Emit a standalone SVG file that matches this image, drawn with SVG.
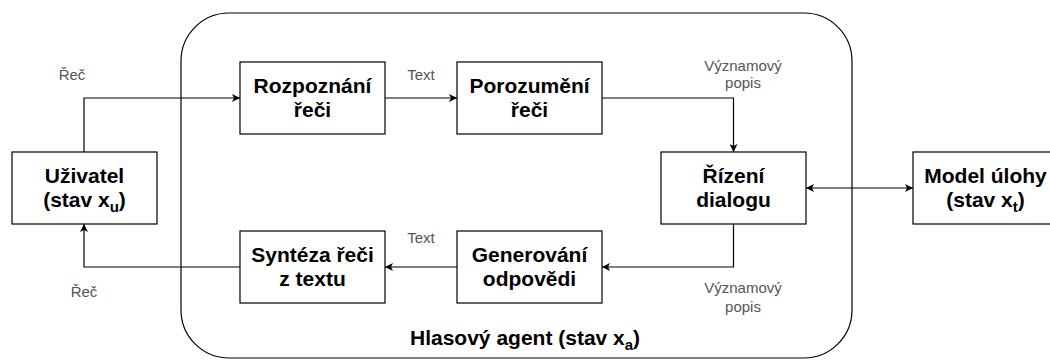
<svg xmlns="http://www.w3.org/2000/svg" width="1050" height="360" viewBox="0 0 1050 360">
  <style>
    .box { fill: #ffffff; stroke: #000000; stroke-width: 1.2; }
    .agent { fill: none; stroke: #000000; stroke-width: 1.2; }
    .t { font-family: "Liberation Sans", Arial, sans-serif; font-size: 21px; font-weight: bold; fill: #000000; text-anchor: middle; }
    .lbl { font-family: "Liberation Sans", Arial, sans-serif; font-size: 15px; fill: #555555; text-anchor: middle; }
    .sub { font-size: 15px; }
    .edge { fill: none; stroke: #000000; stroke-width: 1.2; }
  </style>
  <defs>
    <marker id="arrow" viewBox="0 0 10 10" refX="10" refY="5" markerWidth="8" markerHeight="8" markerUnits="userSpaceOnUse" orient="auto-start-reverse">
      <path d="M0,0 L10,5 L0,10 L2.5,5 Z" fill="#000000"/>
    </marker>
  </defs>

  <!-- voice agent container -->
  <g id="agent">
    <rect class="agent" x="181" y="13" width="671" height="345" rx="48" ry="48"/>
    <text class="t" x="410" y="345" style="text-anchor:start">Hlasový agent (stav x<tspan class="sub" dy="5">a</tspan><tspan dy="-5">)</tspan></text>
  </g>

  <!-- connectors -->
  <g id="connectors">
    <path class="edge" d="M84,152 V98 H240" marker-end="url(#arrow)"/>
    <path class="edge" d="M385,98 H457" marker-end="url(#arrow)"/>
    <path class="edge" d="M602,98 H733.5 V152" marker-end="url(#arrow)"/>
    <path class="edge" d="M806,188 H913" marker-start="url(#arrow)" marker-end="url(#arrow)"/>
    <path class="edge" d="M733.5,224 V267 H602" marker-end="url(#arrow)"/>
    <path class="edge" d="M457,267 H385" marker-end="url(#arrow)"/>
    <path class="edge" d="M240,267 H84 V224" marker-end="url(#arrow)"/>
  </g>

  <!-- connector labels -->
  <g id="labels">
    <text class="lbl" x="72" y="80">Řeč</text>
    <text class="lbl" x="84" y="297">Řeč</text>
    <text class="lbl" x="421" y="80">Text</text>
    <text class="lbl" x="421" y="243">Text</text>
    <text class="lbl" x="743" y="71">Významový</text>
    <text class="lbl" x="743" y="88">popis</text>
    <text class="lbl" x="743" y="293">Významový</text>
    <text class="lbl" x="743" y="312">popis</text>
  </g>

  <g id="uzivatel">
    <rect class="box" x="12" y="152" width="145" height="72"/>
    <text class="t" x="84.5" y="183">Uživatel</text>
    <text class="t" x="84.5" y="207">(stav x<tspan class="sub" dy="5">u</tspan><tspan dy="-5">)</tspan></text>
  </g>

  <g id="rozpoznani">
    <rect class="box" x="240" y="62" width="145" height="72"/>
    <text class="t" x="312.5" y="93">Rozpoznání</text>
    <text class="t" x="312.5" y="117">řeči</text>
  </g>

  <g id="porozumeni">
    <rect class="box" x="457" y="62" width="145" height="72"/>
    <text class="t" x="529.5" y="93">Porozumění</text>
    <text class="t" x="529.5" y="117">řeči</text>
  </g>

  <g id="rizeni">
    <rect class="box" x="661" y="152" width="145" height="72"/>
    <text class="t" x="733.5" y="183">Řízení</text>
    <text class="t" x="733.5" y="207">dialogu</text>
  </g>

  <g id="model">
    <rect class="box" x="913" y="152" width="145" height="72"/>
    <text class="t" x="985.5" y="183">Model úlohy</text>
    <text class="t" x="985.5" y="207">(stav x<tspan class="sub" dy="5">t</tspan><tspan dy="-5">)</tspan></text>
  </g>

  <g id="generovani">
    <rect class="box" x="457" y="231" width="145" height="72"/>
    <text class="t" x="529.5" y="262">Generování</text>
    <text class="t" x="529.5" y="286">odpovědi</text>
  </g>

  <g id="synteza">
    <rect class="box" x="240" y="231" width="145" height="72"/>
    <text class="t" x="312.5" y="262">Syntéza řeči</text>
    <text class="t" x="312.5" y="286">z textu</text>
  </g>
</svg>
